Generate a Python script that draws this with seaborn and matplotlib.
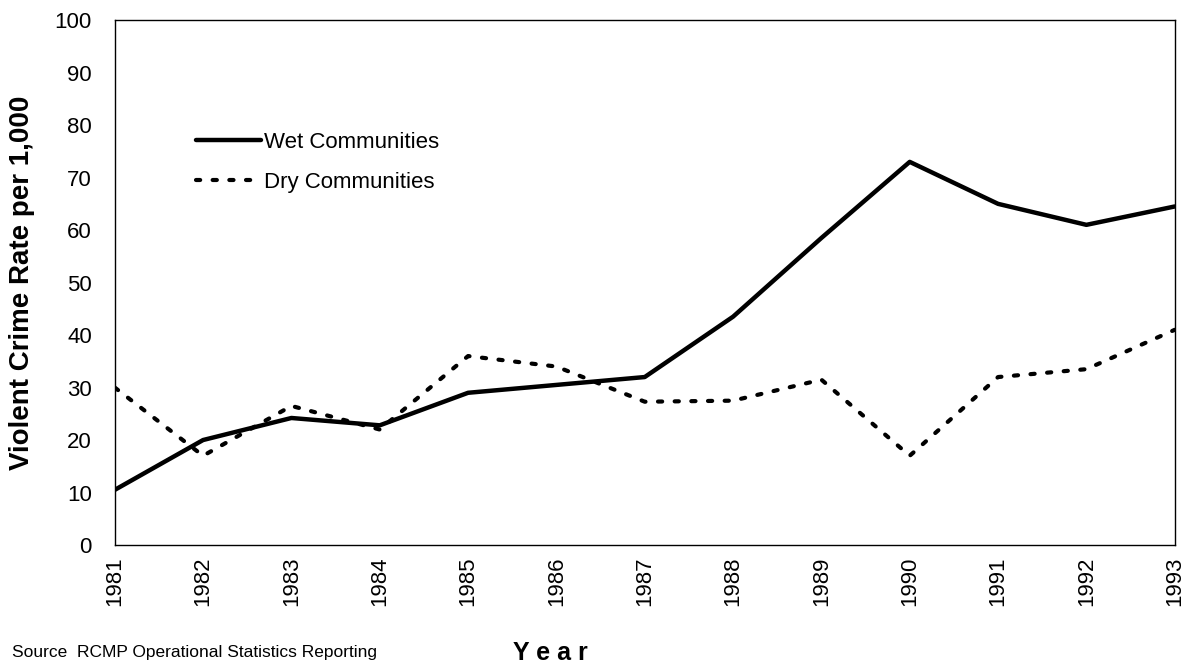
import numpy as np
import pandas as pd
import matplotlib
matplotlib.use("Agg")
import matplotlib.pyplot as plt
import seaborn as sns

years = [1981, 1982, 1983, 1984, 1985, 1986, 1987, 1988, 1989, 1990, 1991, 1992, 1993]
wet = [10.5, 20, 24.2, 22.8, 29, 30.5, 32, 43.5, 58.5, 73, 65, 61, 64.5]
dry = [30, 17, 26.5, 22, 36, 34, 27.3, 27.5, 31.5, 17, 32, 33.5, 41]

df = pd.DataFrame({"Year": years, "Wet Communities": wet, "Dry Communities": dry})

sns.set_theme(style="white")
plt.rcParams['font.family'] = ['Liberation Sans', 'DejaVu Sans']
plt.rcParams['text.color'] = 'black'
plt.rcParams['axes.labelcolor'] = 'black'

fig = plt.figure(figsize=(11.83, 6.72), dpi=100)
ax = fig.add_axes([0.097, 0.189, 0.896, 0.781])

sns.lineplot(data=df, x="Year", y="Wet Communities", ax=ax, color="black",
             linewidth=3.2, label="Wet Communities")
sns.lineplot(data=df, x="Year", y="Dry Communities", ax=ax, color="black",
             linewidth=3, linestyle=(0, (1, 3)), dash_capstyle="round",
             label="Dry Communities")

ax.set_xlim(1981, 1993)
ax.set_ylim(0, 100)
ax.set_xticks(years)
ax.set_xticklabels([str(y) for y in years], rotation=90, fontsize=16)
ax.set_yticks(range(0, 101, 10))
ax.set_yticklabels([str(v) for v in range(0, 101, 10)], fontsize=16)
ax.tick_params(axis="both", direction="inout", length=5, width=1, colors="black")
ax.tick_params(axis="y", pad=14)
ax.tick_params(axis="x", pad=6)
for s in ax.spines.values():
    s.set_color("black")
    s.set_linewidth(1)
ax.set_xlabel("")
ax.set_ylabel("Violent Crime Rate per 1,000", fontsize=20, fontweight="bold", labelpad=14)

leg = ax.legend(loc="upper left", bbox_to_anchor=(0.058, 0.825), frameon=False,
                fontsize=16, handlelength=2.9, handletextpad=0.15, labelspacing=0.85)

fig.text(0.465, 0.018, "Y e a r", fontsize=18, fontweight="bold", ha="center")
fig.text(0.01, 0.022, "Source  RCMP Operational Statistics Reporting", fontsize=12.5)

plt.savefig("out.png", dpi=100)
